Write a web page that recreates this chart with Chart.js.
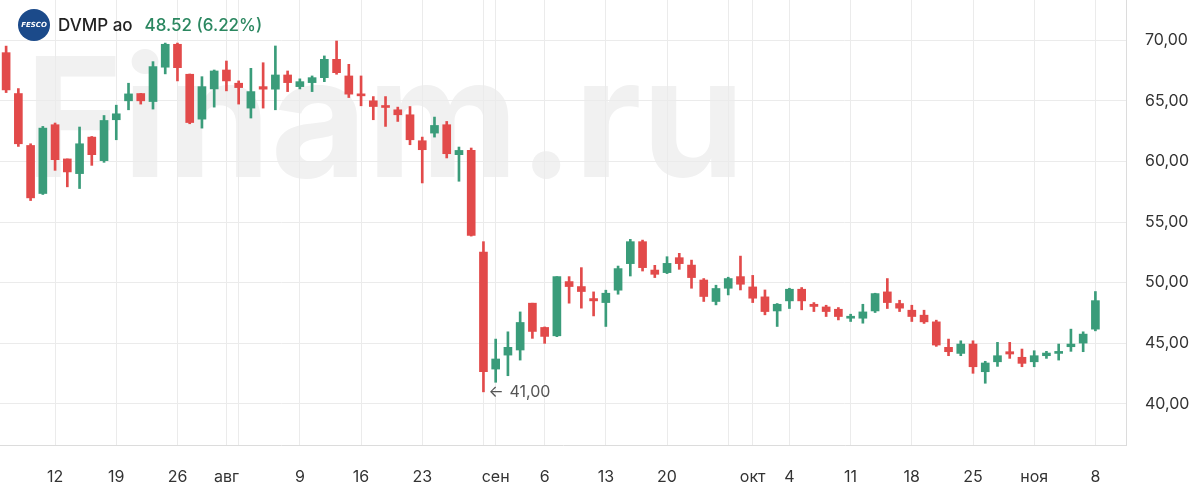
<!DOCTYPE html>
<html><head><meta charset="utf-8">
<script src="https://cdn.jsdelivr.net/npm/chart.js@4.4.0/dist/chart.umd.min.js"></script>
<style>
html,body{margin:0;padding:0;background:#fff;}
#wrap{position:relative;width:1200px;height:490px;overflow:hidden;}
canvas{display:block;}
#hdr{position:absolute;left:18px;top:9px;height:32px;display:flex;align-items:center;font-family:Inter,"Noto Sans",sans-serif;font-size:17px;font-weight:500;white-space:nowrap;}
#logo{width:32px;height:32px;border-radius:50%;background:#1b4a8a;color:#fff;display:flex;align-items:center;justify-content:center;font-size:7px;font-weight:800;font-style:italic;margin-right:8px;font-family:"DejaVu Sans",sans-serif;}
</style></head>
<body>
<div id="wrap"><canvas id="c" width="1200" height="490"></canvas>
<div id="hdr"><div id="logo">FESCO</div><span style="color:#222">DVMP ao</span><span style="color:#2b8760;margin-left:12px">48.52 (6.22%)</span></div></div>
<script>
const categories = [
 '06.07','07.07','08.07','09.07','12.07','13.07','14.07','15.07','16.07','19.07','20.07','21.07','22.07','23.07','26.07','27.07','28.07','29.07','30.07',
 '02.08','03.08','04.08','05.08','06.08','09.08','10.08','11.08','12.08','13.08','16.08','17.08','18.08','19.08','20.08','23.08','24.08','25.08','26.08','27.08','30.08','31.08',
 '01.09','02.09','03.09','06.09','07.09','08.09','09.09','10.09','13.09','14.09','15.09','16.09','17.09','20.09','21.09','22.09','23.09','24.09','27.09','28.09','29.09','30.09',
 '01.10','04.10','05.10','06.10','07.10','08.10','11.10','12.10','13.10','14.10','15.10','18.10','19.10','20.10','21.10','22.10','25.10','26.10','27.10','28.10','29.10',
 '01.11','02.11','03.11','04.11','05.11','08.11'
];
const opens = [68.96,65.59,61.31,57.35,63.02,60.20,58.99,62.00,60.06,63.43,64.99,65.59,64.93,67.76,69.65,67.18,63.48,65.97,67.53,
 66.44,64.39,66.16,65.95,67.12,66.16,66.49,66.90,68.41,67.04,65.54,64.99,64.52,64.25,63.84,61.70,62.33,63.02,60.55,60.90,52.52,42.88,
 44.03,44.45,48.31,46.31,45.62,50.09,49.68,48.69,48.36,49.38,51.57,53.38,51.04,50.83,52.06,51.45,50.22,48.45,49.54,50.50,49.65,48.83,
 47.67,48.50,49.46,48.22,48.00,47.81,47.07,47.07,47.67,49.24,48.28,47.73,47.32,46.77,44.67,44.17,44.94,42.66,43.48,44.31,43.85,
 43.48,43.98,44.17,44.72,45.02,46.17];
const highs = [69.50,66.00,61.45,62.88,63.16,60.20,62.83,62.05,63.78,64.63,66.44,65.60,68.22,69.75,69.75,67.20,66.98,67.53,68.27,
 66.63,67.67,68.13,69.51,67.45,66.80,67.04,68.69,69.92,68.00,67.04,65.34,65.34,64.47,64.52,62.00,63.65,63.29,61.18,61.10,53.38,45.35,
 45.95,47.59,48.31,46.35,50.50,50.50,51.24,49.24,49.38,51.37,53.57,53.51,51.43,52.14,52.42,51.86,50.34,49.79,50.45,52.19,50.60,49.40,
 48.28,49.54,49.60,48.36,48.14,47.95,47.40,48.22,49.13,50.34,48.55,48.14,47.73,46.91,45.35,45.21,45.21,43.52,45.08,45.08,44.53,
 44.39,44.34,44.94,46.17,45.95,49.27];
const lows = [65.67,61.23,56.77,57.27,59.26,57.90,57.76,59.67,59.92,61.78,64.25,64.72,64.31,67.21,66.63,63.10,62.74,64.47,65.81,
 64.72,63.57,64.39,64.25,65.75,65.97,65.75,66.57,67.18,65.26,64.58,63.43,62.88,63.29,61.37,58.22,62.00,60.28,58.36,53.84,41.00,41.79,
 42.33,43.62,45.41,45.00,45.55,48.31,47.90,47.26,46.39,49.05,50.55,50.96,50.42,50.75,51.10,49.54,48.45,48.17,48.99,49.40,48.36,47.35,
 46.39,47.87,47.76,47.62,47.21,46.93,46.80,46.66,47.54,47.87,47.62,46.80,46.64,44.75,43.98,43.98,42.53,41.71,43.10,43.76,43.07,
 43.07,43.76,43.62,44.34,44.31,46.03];
const closes = [65.89,61.45,56.99,62.74,60.14,59.13,61.45,60.55,63.37,63.92,65.56,64.99,67.81,69.65,67.72,63.20,66.16,67.45,66.63,
 66.08,65.75,65.95,67.12,66.49,66.57,66.90,68.41,67.31,65.54,65.40,64.52,64.44,63.84,61.78,60.96,62.96,60.63,60.90,53.90,42.66,43.71,
 44.67,46.72,45.98,45.57,50.50,49.68,49.27,48.50,49.13,51.16,53.38,51.24,50.69,51.59,51.57,50.42,48.86,49.52,50.34,49.87,48.72,47.62,
 48.22,49.46,48.50,48.04,47.62,47.21,47.18,47.59,49.10,48.36,47.90,47.21,46.77,44.86,44.31,44.94,43.07,43.38,43.98,44.12,43.35,
 43.98,44.20,44.31,44.94,45.76,48.52];
const tickDates = ['12.07','19.07','26.07','30.07','02.08','09.08','16.08','23.08','30.08','31.08','06.09','13.09','20.09','27.09','29.09','04.10','11.10','18.10','25.10','01.11','08.11'];
const tickTexts = ['12','19','26','авг','','9','16','23','','сен','6','13','20','','окт','4','11','18','25','ноя','8'];
const yTicks = [40,45,50,55,60,65,70];

const UP = '#3a9c7a', DOWN = '#e24a4a';
const labels = categories.concat(['', '']);
const labelMap = {};
tickDates.forEach((d, k) => { labelMap[categories.indexOf(d)] = tickTexts[k]; });
const colors = opens.map((o, i) => closes[i] >= o ? UP : DOWN);

const watermark = {
  id: 'watermark',
  beforeDraw(chart) {
    const ctx = chart.ctx;
    ctx.save();
    ctx.font = 'bold 100px Inter';
    const w = ctx.measureText('Finam.ru').width;
    const size = 100 * 720 / w;
    ctx.font = 'bold ' + size + 'px Inter';
    ctx.fillStyle = '#f1f1f1';
    ctx.textBaseline = 'alphabetic';
    ctx.fillText('Finam.ru', 25, 177);
    ctx.restore();
  }
};
const lowMark = {
  id: 'lowMark',
  afterDatasetsDraw(chart) {
    const ctx = chart.ctx, xs = chart.scales.x, ys = chart.scales.y;
    const mn = Math.min(...lows), i = lows.indexOf(mn);
    const x = xs.getPixelForValue(i) + 5, y = ys.getPixelForValue(mn);
    ctx.save();
    ctx.font = '16px Inter';
    ctx.fillStyle = '#555';
    ctx.textBaseline = 'middle';
    ctx.fillText('←', x, y);
    ctx.fillText(mn.toFixed(2).replace('.', ','), x + 21, y);
    ctx.restore();
  }
};
function zeroPad(s) { s.paddingLeft = 0; s.paddingRight = 0; s.paddingTop = 0; s.paddingBottom = 0; }

new Chart(document.getElementById('c'), {
  type: 'bar',
  data: {
    labels: labels,
    datasets: [
      { label: 'wick', data: lows.map((l, i) => [l, highs[i]]), backgroundColor: colors, barThickness: 2, grouped: false, order: 2, borderWidth: 0 },
      { label: 'body', data: opens.map((o, i) => [o, closes[i]]), backgroundColor: colors, barThickness: 8, minBarLength: 2, grouped: false, order: 1, borderWidth: 0 }
    ]
  },
  options: {
    responsive: false,
    animation: false,
    devicePixelRatio: 1,
    layout: { padding: 0, autoPadding: false },
    plugins: { legend: { display: false }, tooltip: { enabled: false } },
    scales: {
      x: {
        type: 'category', offset: true,
        grid: { offset: false, drawTicks: false, lineWidth: 1, color: c => (labelMap[c.index] !== undefined ? '#ebebeb' : 'rgba(0,0,0,0)') },
        border: { display: true, color: '#dcdcdc' },
        ticks: { autoSkip: false, maxRotation: 0, minRotation: 0, padding: 23, color: '#333', font: { family: 'Inter', size: 16 },
                 callback: (v, i) => labelMap[i] || '' },
        afterFit: s => { s.height = 45; zeroPad(s); }
      },
      y: {
        position: 'right', min: 36.62, max: 73.30,
        afterBuildTicks: s => { s.ticks = yTicks.map(v => ({ value: v })); },
        grid: { color: '#ebebeb', drawTicks: false },
        border: { display: true, color: '#dcdcdc' },
        ticks: { padding: 19, color: '#333', font: { family: 'Inter', size: 16 }, callback: v => Number(v).toFixed(2).replace('.', ',') },
        afterFit: s => { s.width = 74; zeroPad(s); }
      }
    }
  },
  plugins: [watermark, lowMark]
});
</script>
</body></html>
